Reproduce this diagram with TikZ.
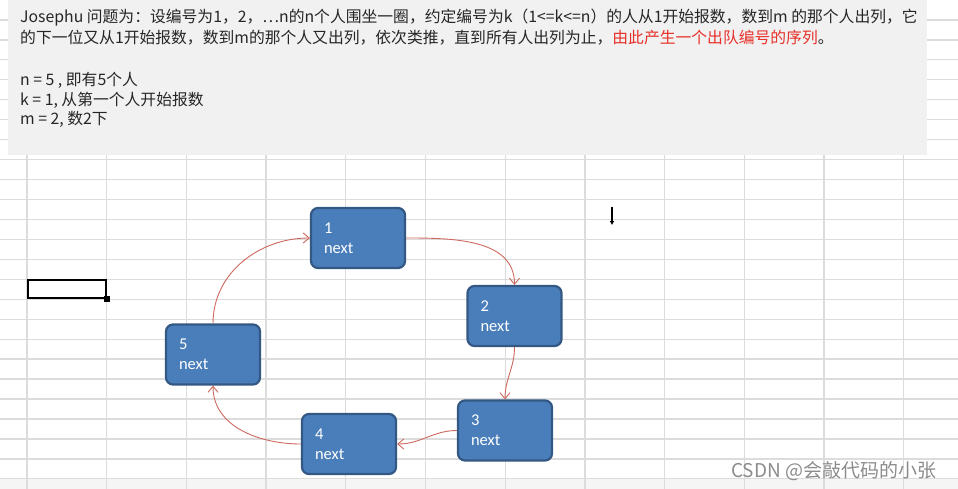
\documentclass[tikz,border=0pt]{standalone}
\usepackage{fontspec}
\setmainfont{Carlito}
\newfontfamily\cjk{Noto Sans CJK SC}
\usetikzlibrary{arrows.meta, positioning, calc}
\definecolor{boxblue}{RGB}{74,126,187}
\definecolor{boxedge}{RGB}{52,88,132}
\definecolor{linkred}{RGB}{205,105,95}
\definecolor{gridgray}{RGB}{220,220,220}
\definecolor{notegray}{RGB}{240,241,240}
\definecolor{hilite}{RGB}{232,48,42}
\tikzset{
    personbox/.style={rectangle, rounded corners=7pt, fill=boxblue, draw=boxedge, line width=2.2pt, minimum width=94pt, minimum height=60pt, text width=68pt, inner xsep=13pt, align=left, text=white, font=\fontsize{16.5}{20}\selectfont},
    notetext/.style={anchor=base west, inner sep=0pt, font=\cjk\fontsize{15.8}{20}\selectfont, text=black!85},
    linkarrow/.style={-{Straight Barb[length=6pt,width=10pt]}, line width=0.9pt, draw=linkred},
    gridline/.style={draw=gridgray, line width=1.3pt}
}

\begin{document}
\begin{tikzpicture}[x=1pt, y=-1pt]
    \useasboundingbox (0,0) rectangle (958,489);
    \fill[white] (0,0) rectangle (958,489);
    \fill[black!4] (0,479) rectangle (958,489);

    % Spreadsheet grid
    \foreach \i in {0,...,11}
        \draw[gridline] ({27+79.7*\i},0) -- ({27+79.7*\i},489);
    \foreach \j in {1,...,24}
        \draw[gridline] (0,{19.95*\j}) -- (958,{19.95*\j});

    % Problem statement
    \fill[notegray] (8,0) rectangle (927,155);
    \node[notetext] (line1) at (20,22.5) {Josephu 问题为：设编号为1，2，…n的n个人围坐一圈，约定编号为k（1<=k<=n）的人从1开始报数，数到m 的那个人出列，它};
    \node[notetext] (line2) at (20,43.5) {的下一位又从1开始报数，数到m的那个人又出列，依次类推，直到所有人出列为止，\textcolor{hilite}{由此产生一个出队编号的序列}。};
    \node[notetext] (nval) at (20,85.5) {n = 5 , 即有5个人};
    \node[notetext] (kval) at (20,105.5) {k = 1, 从第一个人开始报数};
    \node[notetext] (mval) at (20,124.5) {m = 2, 数2下};

    % Selected cell and cursor
    \node[draw=black, line width=2.5pt, minimum width=78pt, minimum height=18pt, inner sep=0pt] (cell) at (67,289) {};
    \fill[black] ($(cell.south east)+(-3,-3)$) rectangle ++(6,6);
    \coordinate (ctop) at (612,207);
    \coordinate (cbot) at (612,225);
    \draw[-{Latex[length=4pt,width=5pt]}, line width=1.6pt] (ctop) -- (cbot);

    % Ring of people
    \node[personbox] (p1) at (358,238) {1\\next};
    \node[personbox] (p2) at (514.5,316) {2\\next};
    \node[personbox] (p3) at (505,430.5) {3\\next};
    \node[personbox] (p4) at (349,444) {4\\next};
    \node[personbox] (p5) at (213,354.5) {5\\next};

    % next links
    \draw[linkarrow] (p1.east) to[out=0, in=90] (p2.north);
    \draw[linkarrow] (p2.south) to[out=-90, in=90] (p3.north);
    \draw[linkarrow] (p3.west) to[out=180, in=0] (p4.east);
    \draw[linkarrow] (p4.west) to[out=180, in=-90] (p5.south);
    \draw[linkarrow] (p5.north) to[out=90, in=180] (p1.west);

    % Watermark
    \node[anchor=base west, inner sep=0pt, font=\cjk\fontsize{19}{20}\selectfont, text=black!45] (mark) at (731,477) {CSDN @会敲代码的小张};
\end{tikzpicture}
\end{document}
